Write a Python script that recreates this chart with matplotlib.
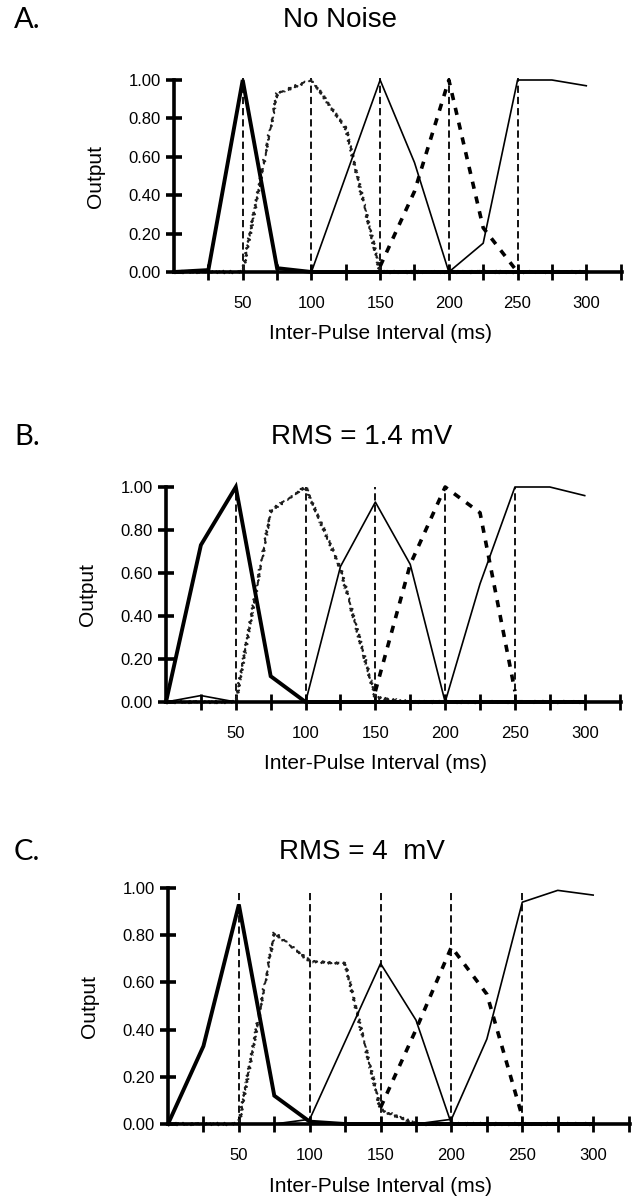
import matplotlib
matplotlib.use("Agg")
import matplotlib.pyplot as plt
import matplotlib.transforms as mtransforms

plt.rcParams['font.family'] = ['Liberation Sans', 'DejaVu Sans']

# ---- data ----
intervals = [0, 25, 50, 75, 100, 125, 150, 175, 200, 225, 250, 275, 300]
vline_x = [50, 100, 150, 200, 250]
xtick_labels = [50, 100, 150, 200, 250, 300]
ytick_vals = [0.0, 0.2, 0.4, 0.6, 0.8, 1.0]

titles = ["No Noise", "RMS = 1.4 mV", "RMS = 4  mV"]
letters = ["A.", "B.", "C."]

# Panel A
a_thick = [0.00, 0.01, 1.00, 0.02, 0.00, 0, 0, 0, 0, 0, 0, 0, 0]
a_wavy = [0, 0, 0.00, 0.93, 1.00, 0.75, 0.00, 0, 0, 0, 0, 0, 0]
a_thin150 = [0, 0, 0, 0, 0.00, 0.50, 1.00, 0.57, 0.00, 0, 0, 0, 0]
a_dash200 = [None, None, None, None, None, None, 0.03, 0.42, 1.00, 0.23, 0.00, None, None]
a_thin250 = [0, 0, 0, 0, 0, 0, 0, 0, 0.00, 0.15, 1.00, 1.00, 0.97]
a_vtop = 1.01

# Panel B
b_thick = [0.00, 0.73, 1.00, 0.12, 0.00, 0, 0, 0, 0, 0, 0, 0, 0]
b_wavy = [0, 0, 0.00, 0.89, 1.00, 0.62, 0.02, 0, 0, 0, 0, 0, 0]
b_thin150 = [0, 0, 0, 0, 0.00, 0.63, 0.93, 0.64, 0.00, 0, 0, 0, 0]
b_dash200 = [None, None, None, None, None, None, 0.05, 0.64, 1.00, 0.88, 0.05, None, None]
b_thin250 = [0.00, 0.03, 0.00, 0, 0, 0, 0, 0, 0.00, 0.55, 1.00, 1.00, 0.96]
b_vtop = 1.00

# Panel C
c_thick = [0.00, 0.33, 0.93, 0.12, 0.01, 0, 0, 0, 0, 0, 0, 0, 0]
c_wavy = [0, 0, 0.00, 0.81, 0.69, 0.68, 0.06, 0, 0, 0, 0, 0, 0]
c_thin150 = [0, 0, 0, 0, 0.02, 0.35, 0.68, 0.44, 0.00, 0, 0, 0, 0]
c_dash200 = [None, None, None, None, None, None, 0.07, 0.40, 0.75, 0.55, 0.03, None, None]
c_thin250 = [0, 0, 0, 0, 0, 0, 0, 0, 0.02, 0.36, 0.94, 0.99, 0.97]
c_vtop = 0.98

panels = [
    (a_thick, a_wavy, a_thin150, a_dash200, a_thin250, a_vtop),
    (b_thick, b_wavy, b_thin150, b_dash200, b_thin250, b_vtop),
    (c_thick, c_wavy, c_thin150, c_dash200, c_thin250, c_vtop),
]

W, H = 636, 1200
fig = plt.figure(figsize=(W / 100, H / 100), dpi=100)

# axes boxes in pixels: left, right, top(y=1), bottom(y=0)
boxes = [
    (174, 622, 80, 272),
    (166, 621, 487, 702),
    (168, 630, 888, 1124),
]
title_y = [20, 437, 852]
title_x = [340, 362, 362]

for i, (box, data) in enumerate(zip(boxes, panels)):
    l, r, t, b = box
    ax = fig.add_axes([l / W, 1 - b / H, (r - l) / W, (b - t) / H])
    thick, wavy, thin150, dash200, thin250, vtop = data
    ax.vlines(vline_x, 0, vtop, colors='black', linewidth=1.3,
              linestyles=(0, (4, 2.2)), clip_on=False, zorder=2)
    ax.plot(intervals, thick, color='black', lw=2.8, solid_joinstyle='miter',
            clip_on=False, zorder=4)
    ln, = ax.plot(intervals, wavy, color='#1e1e1e', lw=1.4,
                  linestyle=(0, (4, 3)), clip_on=False, zorder=3)
    ln.set_sketch_params(1.3, 2.5, 1.5)
    ax.plot(intervals, thin150, color='black', lw=1.2, clip_on=False, zorder=3)
    dashx = [x for x, v in zip(intervals, dash200) if v is not None]
    dashy = [v for v in dash200 if v is not None]
    ax.plot(dashx, dashy, color='black', lw=2.6,
            linestyle=(0, (2, 2.2)), clip_on=False, zorder=3)
    ax.plot(intervals, thin250, color='black', lw=1.2, clip_on=False, zorder=3)

    ax.set_xlim(0, 326)
    ax.set_ylim(0, 1.0)
    for s in ['top', 'right']:
        ax.spines[s].set_visible(False)
    for s in ['left', 'bottom']:
        ax.spines[s].set_linewidth(2.6)
        ax.spines[s].set_zorder(5)
    ax.set_yticks(ytick_vals)
    ax.set_yticklabels(["%.2f" % v for v in ytick_vals], fontsize=12)
    ax.set_xticks(list(range(25, 326, 25)))
    ax.set_xticklabels([str(v) if v in xtick_labels else "" for v in range(25, 326, 25)],
                       fontsize=12)
    ax.tick_params(axis='y', direction='inout', length=11, width=2.6, pad=4)
    ax.tick_params(axis='x', direction='inout', length=11, width=2.0, pad=12)
    ax.set_ylabel("Output", fontsize=15, labelpad=17)
    trans = mtransforms.blended_transform_factory(ax.transData, ax.transAxes)
    ax.text(150, -0.25 * 192 / (b - t) - 0.02, "Inter-Pulse Interval (ms)", transform=trans,
            ha='center', va='top', fontsize=15)
    fig.text(title_x[i] / W, 1 - title_y[i] / H, titles[i], ha='center', va='center',
             fontsize=20)
    fig.text(14 / W, 1 - title_y[i] / H, letters[i], ha='left', va='center',
             fontsize=21, family=['Lato', 'DejaVu Sans'])

fig.savefig("out.png", dpi=100)
